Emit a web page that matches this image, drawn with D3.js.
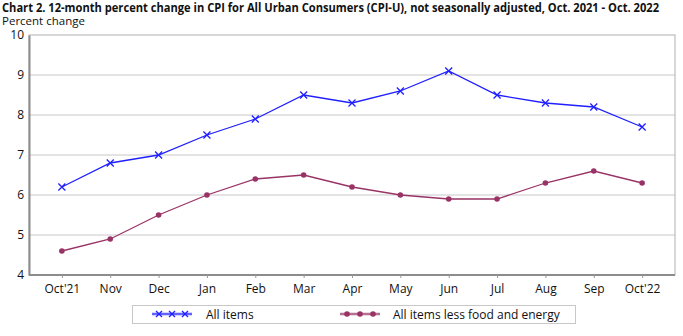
<!DOCTYPE html>
<html>
<head>
<meta charset="utf-8">
<script src="https://cdn.jsdelivr.net/npm/d3@7"></script>
<style>
  body { margin: 0; background: #fff; }
  svg { font-family: "Open Sans", "Noto Sans", sans-serif; }
</style>
</head>
<body>
<script>
// 12-month percent change, CPI-U, Oct 2021 - Oct 2022
let months = ["Oct'21", 'Nov', 'Dec', 'Jan', 'Feb', 'Mar', 'Apr', 'May', 'Jun', 'Jul', 'Aug', 'Sep', "Oct'22"];
let allItems = [6.2, 6.8, 7.0, 7.5, 7.9, 8.5, 8.3, 8.6, 9.1, 8.5, 8.3, 8.2, 7.7];
let coreItems = [4.6, 4.9, 5.5, 6.0, 6.4, 6.5, 6.2, 6.0, 5.9, 5.9, 6.3, 6.6, 6.3];
let yTicks = [4, 5, 6, 7, 8, 9, 10];

let width = 683, height = 336;
let margin = { left: 29, right: 8, top: 35, bottom: 61 };
let blue = '#1f1fff', purple = '#993366';

let svg = d3.select('body').append('svg')
  .attr('width', width).attr('height', height);

// titles
svg.append('text').attr('x', 2).attr('y', 12)
  .attr('font-size', 11.5).attr('font-weight', 'bold').attr('fill', '#111')
  .attr('textLength', 657).attr('lengthAdjust', 'spacingAndGlyphs')
  .text('Chart 2. 12-month percent change in CPI for All Urban Consumers (CPI-U), not seasonally adjusted, Oct. 2021 - Oct. 2022');
svg.append('text').attr('x', 2).attr('y', 25)
  .attr('font-size', 11.5).attr('fill', '#111')
  .text('Percent change');

let x = d3.scalePoint()
  .domain(months)
  .range([margin.left, width - margin.right])
  .padding(0.68);

let y = d3.scaleLinear()
  .domain([4, 10])
  .range([height - margin.bottom, margin.top]);

// gridlines
svg.append('g')
  .selectAll('line')
  .data(yTicks.slice(1, -1))
  .join('line')
  .attr('x1', margin.left).attr('x2', width - margin.right)
  .attr('y1', d => y(d)).attr('y2', d => y(d))
  .attr('stroke', '#c8c8c8').attr('stroke-width', 1);

// frame: light top/right, heavier left/bottom
svg.append('rect')
  .attr('x', margin.left).attr('y', margin.top)
  .attr('width', width - margin.right - margin.left)
  .attr('height', height - margin.bottom - margin.top)
  .attr('fill', 'none').attr('stroke', '#b0b0b0').attr('stroke-width', 1);

let yAxis = d3.axisLeft(y).tickValues(yTicks).tickFormat(d3.format('d')).tickSize(0).tickPadding(5);
let yG = svg.append('g')
  .attr('transform', 'translate(' + margin.left + ',0)')
  .call(yAxis);
yG.select('.domain').attr('stroke', '#8c8c8c').attr('stroke-width', 2);
yG.selectAll('text').attr('font-size', 12).attr('fill', '#111').attr('font-family', '"Open Sans", sans-serif');

let xAxis = d3.axisBottom(x).tickSize(3).tickPadding(6);
let xG = svg.append('g')
  .attr('transform', 'translate(0,' + (height - margin.bottom) + ')')
  .call(xAxis);
xG.select('.domain').attr('d', 'M' + margin.left + ',0H' + (width - margin.right))
  .attr('stroke', '#8c8c8c').attr('stroke-width', 2);
xG.selectAll('.tick line').attr('stroke', '#999');
xG.selectAll('text').attr('font-size', 12).attr('fill', '#111').attr('font-family', '"Open Sans", sans-serif');

let line = d3.line()
  .x((d, i) => x(months[i]))
  .y(d => y(d));

// all items, with x markers
svg.append('path')
  .attr('d', line(allItems))
  .attr('fill', 'none').attr('stroke', blue).attr('stroke-width', 1.3);
let crossPath = 'M-3.5,-3.5L3.5,3.5M-3.5,3.5L3.5,-3.5';
svg.append('g')
  .selectAll('path')
  .data(allItems)
  .join('path')
  .attr('transform', (d, i) => 'translate(' + x(months[i]) + ',' + y(d) + ')')
  .attr('d', crossPath)
  .attr('stroke', blue).attr('stroke-width', 1.3).attr('fill', 'none');

// all items less food and energy, with dots
svg.append('path')
  .attr('d', line(coreItems))
  .attr('fill', 'none').attr('stroke', purple).attr('stroke-width', 1.3);
svg.append('g')
  .selectAll('circle')
  .data(coreItems)
  .join('circle')
  .attr('cx', (d, i) => x(months[i]))
  .attr('cy', d => y(d))
  .attr('r', 2.8)
  .attr('fill', purple);

// legend
let legend = svg.append('g');
legend.append('rect')
  .attr('x', 132.5).attr('y', 305.5).attr('width', 443).attr('height', 18)
  .attr('fill', '#fff').attr('stroke', '#c8c8c8');

let legendItems = [
  { label: 'All items', color: blue, x0: 152, tx: 206, marker: 'cross' },
  { label: 'All items less food and energy', color: purple, x0: 340, tx: 393, marker: 'dot' }
];
legendItems.forEach(function (item) {
  let g = legend.append('g');
  g.append('line')
    .attr('x1', item.x0).attr('x2', item.x0 + 40)
    .attr('y1', 314).attr('y2', 314)
    .attr('stroke', item.color).attr('stroke-width', 2.5).attr('opacity', 0.7);
  [item.x0 + 7, item.x0 + 20, item.x0 + 33].forEach(function (mx) {
    if (item.marker === 'cross') {
      g.append('path')
        .attr('transform', 'translate(' + mx + ',314)')
        .attr('d', 'M-3,-3L3,3M-3,3L3,-3')
        .attr('stroke', item.color).attr('stroke-width', 1.3);
    } else {
      g.append('circle').attr('cx', mx).attr('cy', 314).attr('r', 2.8).attr('fill', item.color);
    }
  });
  g.append('text')
    .attr('x', item.tx).attr('y', 318.5)
    .attr('font-size', 12).attr('fill', '#111')
    .text(item.label);
});
</script>
</body>
</html>
